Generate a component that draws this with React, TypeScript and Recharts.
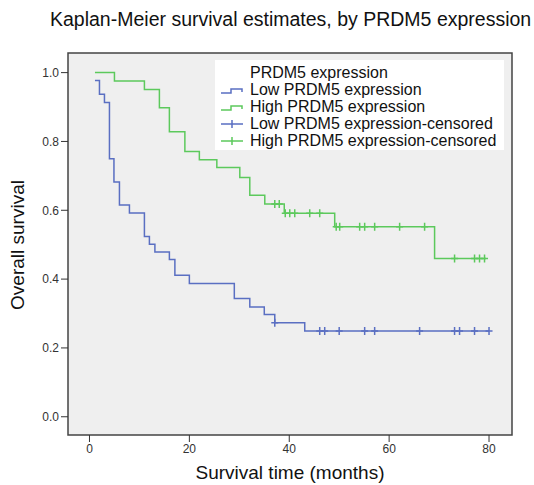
import React from 'react';
import {
  ComposedChart, Line, Scatter, XAxis, YAxis, CartesianGrid, ReferenceArea
} from 'recharts';

// Kaplan-Meier step points: [time in months, survival]
const lowTimes = [1.1, 2.0, 3.0, 4.0, 4.9, 6.0, 8.0, 11.0, 12.0, 13.1, 16.0, 17.1, 20.0, 29.0, 32.1, 35.0, 37.1, 43.1, 80.0];
const lowSurv = [0.977, 0.937, 0.913, 0.750, 0.682, 0.615, 0.592, 0.524, 0.501, 0.479, 0.457, 0.411, 0.387, 0.344, 0.319, 0.297, 0.273, 0.249, 0.249];
const lowCensored = [37.1, 46.1, 47.1, 50.0, 55.1, 57.1, 66.1, 73.1, 74.1, 77.1, 80.0];

const highTimes = [1.1, 5.0, 11.0, 14.0, 16.0, 19.1, 22.0, 25.5, 30.1, 32.1, 35.1, 39.0, 49.1, 69.1, 79.4];
const highSurv = [1.0, 0.976, 0.951, 0.898, 0.828, 0.771, 0.747, 0.724, 0.695, 0.644, 0.618, 0.591, 0.552, 0.460, 0.460];
const highCensored = [37.1, 38.0, 39.2, 40.1, 41.1, 44.1, 46.1, 49.4, 50.1, 54.1, 55.1, 57.1, 62.1, 67.1, 73.1, 77.1, 78.1, 79.1];

const xTicks = [0, 20, 40, 60, 80];
const yTicks = [0, 0.2, 0.4, 0.6, 0.8, 1.0];

const BLUE = '#5a6fc2';
const GREEN = '#5cc95c';
const FONT = "Arial, 'Liberation Sans', sans-serif";

const X_DOMAIN: [number, number] = [-4.3, 84.6];
const Y_DOMAIN: [number, number] = [-0.053, 1.057];

const toCurve = (times: number[], surv: number[]) =>
  times.map((t, i) => ({ t, s: surv[i] }));

// survival level at a censoring time = last step at or before it
const levelAt = (times: number[], surv: number[], t: number) => {
  let s = surv[0];
  times.forEach((ti, i) => { if (ti <= t + 1e-9) s = surv[i]; });
  return s;
};

const toCensored = (cens: number[], times: number[], surv: number[]) =>
  cens.map((t) => ({ t, s: levelAt(times, surv, t) }));

const lowCurve = toCurve(lowTimes, lowSurv);
const highCurve = toCurve(highTimes, highSurv);
const lowCens = toCensored(lowCensored, lowTimes, lowSurv);
const highCens = toCensored(highCensored, highTimes, highSurv);

const plusShape = (color: string) => (props: any) => {
  const { cx, cy } = props;
  if (cx == null || cy == null) return <g />;
  return (
    <path
      d={`M${cx - 3.5},${cy}H${cx + 3.5}M${cx},${cy - 4}V${cy + 4}`}
      stroke={color}
      strokeWidth={1.5}
      fill="none"
    />
  );
};

const StepIcon = ({ color }: { color: string }) => (
  <svg width={24} height={12} style={{ display: 'block' }}>
    <path d="M1,9H11V5H22V8" stroke={color} strokeWidth={1.5} fill="none" />
  </svg>
);

const PlusIcon = ({ color }: { color: string }) => (
  <svg width={24} height={12} style={{ display: 'block' }}>
    <path d="M1,6H23M12,2V10" stroke={color} strokeWidth={1.5} fill="none" />
  </svg>
);

const legendItems = [
  { label: 'Low PRDM5 expression', icon: <StepIcon color={BLUE} /> },
  { label: 'High PRDM5 expression', icon: <StepIcon color={GREEN} /> },
  { label: 'Low PRDM5 expression-censored', icon: <PlusIcon color={BLUE} /> },
  { label: 'High PRDM5 expression-censored', icon: <PlusIcon color={GREEN} /> },
];

const App: React.FC = () => {
  return (
    <div style={{ position: 'absolute', left: 0, top: 0, width: 534, height: 485, background: '#fff', fontFamily: FONT }}>
      {/* title */}
      <div style={{ position: 'absolute', left: 50, top: 8, fontSize: 19.5, color: '#111', whiteSpace: 'nowrap' }}>
        Kaplan-Meier survival estimates, by PRDM5 expression
      </div>

      <div style={{ position: 'absolute', left: 0, top: 0 }}>
        <ComposedChart
          width={534}
          height={485}
          margin={{ top: 53, right: 22, bottom: 20, left: 0 }}
        >
          <CartesianGrid horizontal={false} vertical={false} fill="#efefef" />
          <XAxis
            type="number"
            dataKey="t"
            domain={X_DOMAIN}
            ticks={xTicks}
            allowDataOverflow
            height={30}
            axisLine={false}
            tickSize={7}
            tickLine={{ stroke: '#333' }}
            tick={{ fontSize: 12, fill: '#333', fontFamily: FONT }}
          />
          <YAxis
            type="number"
            domain={Y_DOMAIN}
            ticks={yTicks}
            allowDataOverflow
            width={68}
            axisLine={false}
            tickSize={7}
            tickLine={{ stroke: '#333' }}
            tickFormatter={(v: number) => v.toFixed(1)}
            tick={{ fontSize: 12, fill: '#333', fontFamily: FONT }}
          />
          <ReferenceArea
            x1={X_DOMAIN[0]}
            x2={X_DOMAIN[1]}
            y1={Y_DOMAIN[0]}
            y2={Y_DOMAIN[1]}
            fill="none"
            stroke="#444"
            strokeWidth={1.5}
          />
          <Line data={lowCurve} dataKey="s" type="stepAfter" stroke={BLUE} strokeWidth={1.5} dot={false} activeDot={false} isAnimationActive={false} />
          <Line data={highCurve} dataKey="s" type="stepAfter" stroke={GREEN} strokeWidth={1.5} dot={false} activeDot={false} isAnimationActive={false} />
          <Scatter data={lowCens} dataKey="s" shape={plusShape(BLUE)} isAnimationActive={false} />
          <Scatter data={highCens} dataKey="s" shape={plusShape(GREEN)} isAnimationActive={false} />
        </ComposedChart>
      </div>

      {/* legend */}
      <div style={{ position: 'absolute', left: 215, top: 60, width: 289, height: 90, background: '#fff', fontSize: 16, color: '#111', lineHeight: '17px', paddingTop: 4, boxSizing: 'border-box' }}>
        <div style={{ paddingLeft: 35 }}>PRDM5 expression</div>
        {legendItems.map((it) => (
          <div key={it.label} style={{ display: 'flex', alignItems: 'center', paddingLeft: 5 }}>
            <span style={{ width: 30 }}>{it.icon}</span>
            <span>{it.label}</span>
          </div>
        ))}
      </div>

      {/* axis titles */}
      <div style={{ position: 'absolute', left: 0, top: 462, width: 580, textAlign: 'center', fontSize: 19, color: '#111' }}>
        Survival time (months)
      </div>
      <div style={{ position: 'absolute', left: 18, top: 245, transform: 'translate(-50%, -50%) rotate(-90deg)', fontSize: 19, color: '#111', whiteSpace: 'nowrap' }}>
        Overall survival
      </div>
    </div>
  );
};

export default App;
